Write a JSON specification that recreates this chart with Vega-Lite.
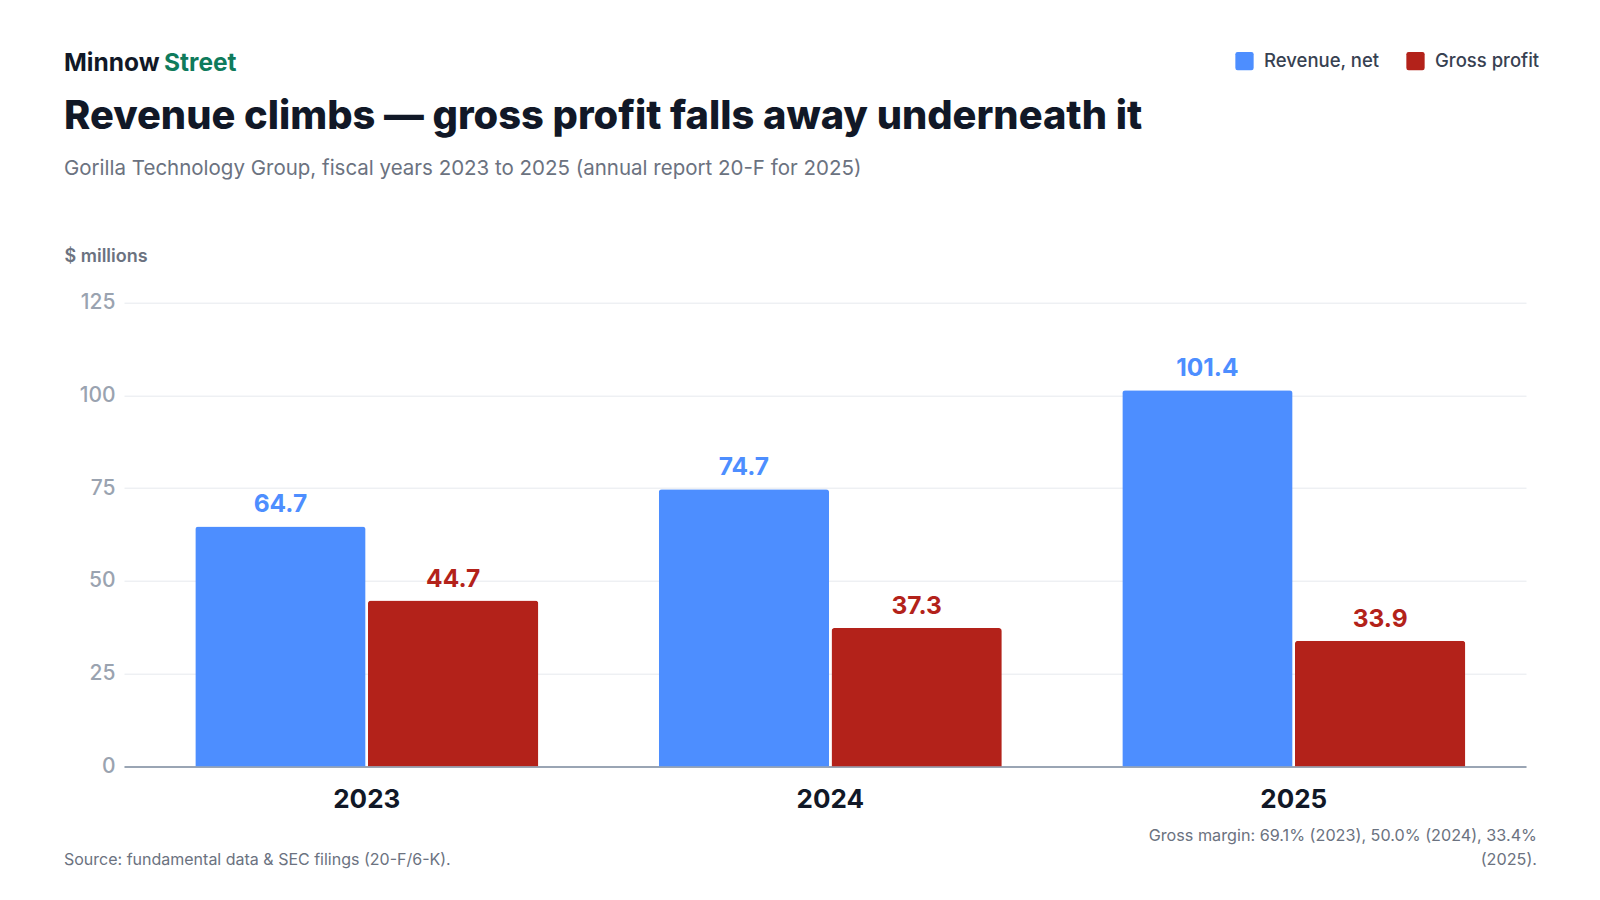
{
  "$schema": "https://vega.github.io/schema/vega-lite/v6.json",
  "autosize": {"type": "pad"},
  "padding": {"left": 64, "top": 50.5, "right": 50, "bottom": 14},
  "background": "white",
  "config": {
    "font": "Inter",
    "view": {"stroke": null},
    "title": {"font": "Inter", "anchor": "start", "frame": "group", "offset": 0}
  },
  "bounds": "flush",
  "spacing": 108.6,
  "resolve": {"scale": {"color": "independent"}, "legend": {"color": "independent"}},
  "vconcat": [
    {
      "bounds": "flush",
      "spacing": 0,
      "hconcat": [
        {
          "width": 100, "height": 4,
          "data": {"values": [{}]},
          "mark": {"type": "text"},
          "encoding": {"text": {"value": ""}},
          "title": {"text": "Minnow", "fontSize": 24.5, "fontWeight": "bold", "color": "#111827", "dx": -60, "offset": -3}
        },
        {
          "width": 1, "height": 4,
          "data": {"values": [{}]},
          "mark": {"type": "text"},
          "encoding": {"text": {"value": ""}},
          "title": {"text": "Street", "fontSize": 24.5, "fontWeight": "bold", "color": "#0f7b5c", "dx": -60, "offset": -3}
        }
      ]
    },
    {
      "width": 1402, "height": 8,
      "data": {"values": [{}]},
      "mark": {"type": "text"},
      "encoding": {"text": {"value": ""}},
      "title": {
        "text": "Revenue climbs — gross profit falls away underneath it",
        "subtitle": "Gorilla Technology Group, fiscal years 2023 to 2025 (annual report 20-F for 2025)",
        "fontSize": 39.8, "fontWeight": 800, "color": "#111827",
        "subtitleFontSize": 20.5, "subtitleColor": "#6b7280", "subtitlePadding": 21,
        "dx": -60
      }
    },
    {
      "width": 1402, "height": 463.7,
      "data": {"values": [
        {"year": "2023", "series": "Revenue, net", "value": 64.7},
        {"year": "2023", "series": "Gross profit", "value": 44.7},
        {"year": "2024", "series": "Revenue, net", "value": 74.7},
        {"year": "2024", "series": "Gross profit", "value": 37.3},
        {"year": "2025", "series": "Revenue, net", "value": 101.4},
        {"year": "2025", "series": "Gross profit", "value": 33.9}
      ]},
      "encoding": {
        "x": {
          "field": "year", "type": "nominal",
          "scale": {"paddingInner": 0.26, "paddingOuter": 0.1424, "align": 0.54},
          "axis": {
            "title": null, "labelAngle": 0, "labelFontSize": 26, "labelFontWeight": "bold",
            "labelColor": "#111827", "labelPadding": 20, "ticks": false, "grid": false,
            "domain": true, "domainColor": "#9aa5b4", "domainWidth": 2
          }
        },
        "xOffset": {"field": "series", "type": "nominal", "sort": ["Revenue, net", "Gross profit"], "scale": {"paddingInner": 0.014}},
        "y": {
          "field": "value", "type": "quantitative",
          "scale": {"domain": [0, 125], "nice": false},
          "axis": {
            "values": [0, 25, 50, 75, 100, 125],
            "title": "$ millions", "titleAngle": 0, "titleX": -60, "titleY": -46,
            "titleAlign": "left", "titleBaseline": "middle", "titleFontSize": 18,
            "titleFontWeight": 600, "titleColor": "#6b7280",
            "labelFontSize": 21, "labelFontWeight": 500, "labelColor": "#9aa3b0", "labelPadding": 9,
            "domain": false, "ticks": false, "gridColor": "#e6e9ee", "gridWidth": 1
          }
        },
        "color": {
          "field": "series", "type": "nominal",
          "scale": {"domain": ["Revenue, net", "Gross profit"], "range": ["#4d8eff", "#b3221a"]},
          "legend": {
            "orient": "none", "legendX": 1111, "legendY": -251, "direction": "horizontal",
            "title": null,
            "symbolType": "M-0.75,-1H0.75Q1,-1,1,-0.75V0.75Q1,1,0.75,1H-0.75Q-1,1,-1,0.75V-0.75Q-1,-1,-0.75,-1Z",
            "symbolSize": 335, "symbolStrokeWidth": 0,
            "symbolOpacity": 1, "labelFontSize": 18.5, "labelFontWeight": 500, "labelColor": "#374151",
            "labelOffset": 10, "columnPadding": 26
          }
        }
      },
      "layer": [
        {"mark": {"type": "bar", "cornerRadiusTopLeft": 3, "cornerRadiusTopRight": 3}},
        {
          "mark": {"type": "text", "baseline": "alphabetic", "dy": -14, "fontSize": 24.5, "fontWeight": "bold"},
          "encoding": {"text": {"field": "value", "type": "quantitative", "format": ".1f"}}
        }
      ]
    },
    {
      "bounds": "flush",
      "spacing": 0,
      "hconcat": [
        {
          "width": 1, "height": 1,
          "data": {"values": [{}]},
          "mark": {"type": "text"},
          "encoding": {"text": {"value": ""}},
          "title": {"text": "Source: fundamental data & SEC filings (20-F/6-K).", "fontSize": 16, "fontWeight": "normal", "color": "#6b7280", "dx": -60, "offset": 0, "dy": -1.5}
        },
        {
          "width": 1412, "height": 1,
          "data": {"values": [{}]},
          "mark": {"type": "text"},
          "encoding": {"text": {"value": ""}},
          "title": {"text": ["Gross margin: 69.1% (2023), 50.0% (2024), 33.4%", "(2025)."], "anchor": "end", "fontSize": 16.2, "fontWeight": "normal", "color": "#6b7280", "lineHeight": 24, "offset": 0, "dy": -1.5}
        }
      ]
    }
  ]
}
